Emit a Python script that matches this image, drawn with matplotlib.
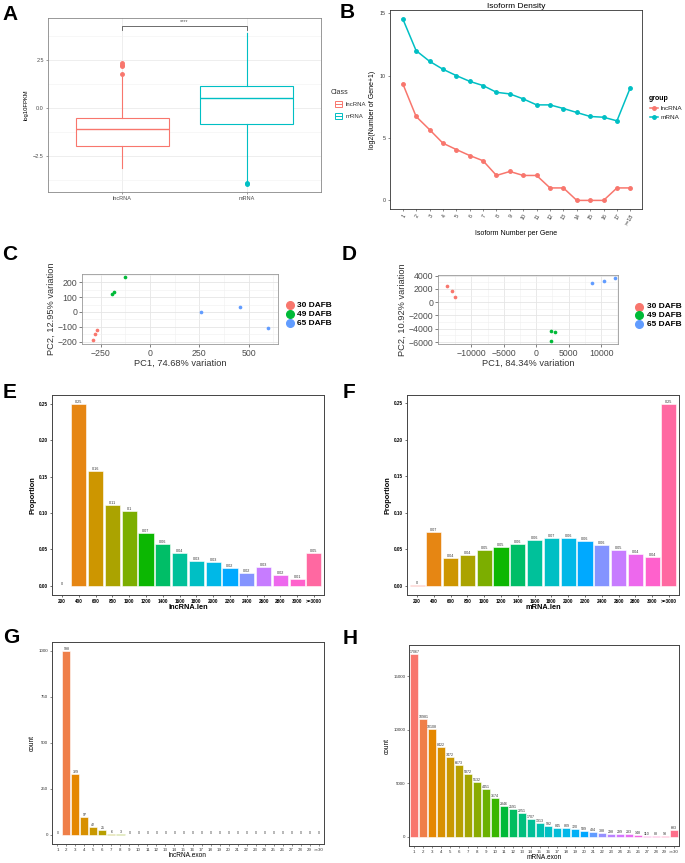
import numpy as np
import matplotlib
matplotlib.use('Agg')
import matplotlib.pyplot as plt
from matplotlib.patches import Rectangle
from matplotlib.ticker import MultipleLocator, FixedLocator

plt.rcParams['font.family'] = ['Liberation Sans', 'DejaVu Sans']

W, H = 685, 863
fig = plt.figure(figsize=(W / 100, H / 100), dpi=100)

# ---------------- data ----------------
# A: boxplot of log10FPKM
box_classes = ['lncRNA', 'mRNA']
box_q1 = [-1.96, -0.82]
box_med = [-1.09, 0.54]
box_q3 = [-0.52, 1.16]
box_lo = [-3.13, -3.82]
box_hi = [1.65, 3.91]
box_fliers = [[1.79, 2.18, 2.26, 2.33], [-3.90, -3.97]]
sig_label = '****'

# B: isoform density
iso_labels = [str(i) for i in range(1, 18)] + ['>=18']
iso_lnc = [9.37, 6.73, 5.68, 4.59, 4.08, 3.60, 3.18, 2.0, 2.32, 2.0, 2.0,
           1.0, 1.0, 0.0, 0.0, 0.0, 1.0, 1.0]
iso_mrna = [14.57, 12.01, 11.16, 10.52, 10.01, 9.55, 9.21, 8.67, 8.54, 8.14,
            7.66, 7.66, 7.37, 7.05, 6.73, 6.67, 6.38, 9.05]

# C: PCA lncRNA
pca_groups = ['30 DAFB', '49 DAFB', '65 DAFB']
pcaC_group = ['30 DAFB'] * 3 + ['49 DAFB'] * 3 + ['65 DAFB'] * 3
pcaC_x = [-290, -281, -268, -194, -184, -126, 256, 455, 600]
pcaC_y = [-189, -148, -119, 124, 135, 238, 2, 36, -110]

# D: PCA mRNA
pcaD_group = ['30 DAFB'] * 3 + ['49 DAFB'] * 3 + ['65 DAFB'] * 3
pcaD_x = [-13740, -12980, -12580, 2320, 2880, 2320, 8640, 10400, 12170]
pcaD_y = [2450, 1650, 850, -4400, -4500, -5900, 2900, 3200, 3650]

# E/F: length distribution
len_cats = ['200', '400', '600', '800', '1000', '1200', '1400', '1600', '1800',
            '2000', '2200', '2400', '2600', '2800', '3000', '>=3000']
lnc_len = [0.0, 0.2495, 0.158, 0.111, 0.103, 0.072, 0.058, 0.045, 0.0345,
           0.0327, 0.024, 0.018, 0.026, 0.015, 0.010, 0.0454]
lnc_len_lab = ['0', '0.25', '0.16', '0.11', '0.1', '0.07', '0.06', '0.04', '0.03',
               '0.03', '0.02', '0.02', '0.03', '0.02', '0.01', '0.05']
mrna_len = [0.0009, 0.0737, 0.038, 0.042, 0.0497, 0.0533, 0.057, 0.0633, 0.066,
            0.065, 0.061, 0.056, 0.049, 0.043, 0.040, 0.2487]
mrna_len_lab = ['0', '0.07', '0.04', '0.04', '0.05', '0.05', '0.06', '0.06', '0.07',
                '0.06', '0.06', '0.06', '0.05', '0.04', '0.04', '0.25']

# G/H: exon number
exon_cats = [str(i) for i in range(1, 30)] + ['>=30']
lnc_exon = [0, 998, 329, 97, 42, 25, 6, 3] + [0] * 22
mrna_exon = [17067, 10981, 10108, 8422, 7472, 6673, 5872, 5132, 4451, 3674,
             2846, 2591, 2251, 1707, 1313, 992, 845, 809, 720, 589,
             434, 388, 298, 299, 233, 148, 110, 88, 93, 683]


# ---------------- helpers ----------------
def hcl_color(h, c=100.0, l=65.0):
    hr = np.deg2rad(h)
    U, V = c * np.cos(hr), c * np.sin(hr)
    Xn, Yn, Zn = 95.047, 100.0, 108.883
    den = Xn + 15 * Yn + 3 * Zn
    un, vn = 4 * Xn / den, 9 * Yn / den
    Y = Yn * ((l + 16) / 116) ** 3
    u = U / (13 * l) + un
    v = V / (13 * l) + vn
    X = 9.0 * Y * u / (4 * v)
    Z = -X / 3 - 5 * Y + 3 * Y / v
    X, Y, Z = X / 100, Y / 100, Z / 100
    r = 3.240479 * X - 1.537150 * Y - 0.498535 * Z
    g = -0.969256 * X + 1.875992 * Y + 0.041556 * Z
    b = 0.055648 * X - 0.204043 * Y + 1.057311 * Z

    def gam(t):
        t = 12.92 * t if t <= 0.0031308 else 1.055 * t ** (1 / 2.4) - 0.055
        return min(1.0, max(0.0, t))
    return (gam(r), gam(g), gam(b))


def hue_pal(n):
    return [hcl_color(h) for h in np.linspace(15, 375, n + 1)[:-1]]


def px_axes(l, t, r, b):
    return fig.add_axes([l / W, 1 - b / H, (r - l) / W, (b - t) / H])


RED, GREEN, BLUE = '#F8766D', '#00BA38', '#619CFF'
TEAL = '#00BFC4'
grp_col = {'30 DAFB': RED, '49 DAFB': GREEN, '65 DAFB': BLUE}

# ---------------- A ----------------
axA = px_axes(48, 18, 321, 192)
stats = []
for i in range(2):
    stats.append(dict(q1=box_q1[i], med=box_med[i], q3=box_q3[i],
                      whislo=box_lo[i], whishi=box_hi[i], fliers=box_fliers[i]))
colsA = [RED, TEAL]
for i, st in enumerate(stats):
    c = colsA[i]
    axA.bxp([st], positions=[i + 1], widths=0.75, showcaps=False, patch_artist=True,
            boxprops=dict(facecolor='white', edgecolor=c, linewidth=0.8),
            whiskerprops=dict(color=c, linewidth=0.8),
            medianprops=dict(color=c, linewidth=1.0),
            flierprops=dict(marker='o', markerfacecolor=c, markeredgecolor=c,
                            markersize=2.5))
axA.set_xlim(0.4, 2.6)
axA.set_ylim(-4.37, 4.7)
axA.set_xticks([1, 2])
axA.set_xticklabels(box_classes)
axA.set_yticks([-2.5, 0, 2.5])
axA.set_yticklabels(['\u22122.5', '0.0', '2.5'])
axA.yaxis.set_minor_locator(FixedLocator([-3.75, -1.25, 1.25, 3.75]))
axA.grid(True, which='major', color='#EBEBEB', linewidth=0.6)
axA.grid(True, which='minor', color='#F2F2F2', linewidth=0.4)
axA.xaxis.grid(True, color='#EBEBEB', linewidth=0.6)
axA.set_axisbelow(True)
axA.tick_params(axis='both', which='major', labelsize=4, colors='#4D4D4D',
                length=1.5, width=0.4, pad=1.5)
axA.tick_params(axis='both', which='minor', length=0)
for s in axA.spines.values():
    s.set_color('#888888')
    s.set_linewidth(0.6)
axA.set_ylabel('log10FPKM', fontsize=4.2, labelpad=3)
axA.plot([1, 1, 2, 2], [4.1, 4.3, 4.3, 4.1], color='#555555', linewidth=0.6)
axA.text(1.5, 4.38, sig_label, ha='center', va='bottom', fontsize=4, color='#555555')

# ---------------- B ----------------
axB = px_axes(390, 10, 642, 209)
xb = np.arange(1, len(iso_labels) + 1)
axB.plot(xb, iso_lnc, color=RED, marker='o', markersize=2.5, linewidth=1.1)
axB.plot(xb, iso_mrna, color=TEAL, marker='o', markersize=2.5, linewidth=1.1)
axB.set_xlim(0.05, 18.87)
axB.set_ylim(-0.69, 15.27)
axB.set_xticks(xb)
axB.set_xticklabels(iso_labels, rotation=60, ha='right', rotation_mode='anchor')
axB.set_yticks([0, 5, 10, 15])
axB.tick_params(axis='both', labelsize=3.8, colors='#333333', length=1.5, width=0.4, pad=1.5)
for s in axB.spines.values():
    s.set_color('#333333')
    s.set_linewidth(0.6)
axB.set_title('Isoform Density', fontsize=6, pad=1.5)
axB.set_ylabel('log2(Number of Gene+1)', fontsize=5, labelpad=3)
axB.set_xlabel('Isoform Number per Gene', fontsize=5, labelpad=3)


# ---------------- C / D ----------------
def pca_panel(ax, xs, ys, grps, xlim, ylim, xt, yt, xmin, ymin, xlabel, ylabel):
    for g in pca_groups:
        idx = [i for i, gg in enumerate(grps) if gg == g]
        ax.scatter([xs[i] for i in idx], [ys[i] for i in idx], s=7,
                   color=grp_col[g], zorder=3, linewidths=0)
    ax.set_xlim(*xlim)
    ax.set_ylim(*ylim)
    ax.set_xticks(xt)
    ax.set_yticks(yt)
    ax.xaxis.set_minor_locator(FixedLocator(xmin))
    ax.yaxis.set_minor_locator(FixedLocator(ymin))
    ax.grid(True, which='major', color='#E5E5E5', linewidth=0.6)
    ax.grid(True, which='minor', color='#F0F0F0', linewidth=0.4)
    ax.set_axisbelow(True)
    ax.tick_params(axis='both', which='major', labelsize=6.3, colors='#4D4D4D',
                   length=2, width=0.5, pad=1.5)
    ax.tick_params(axis='both', which='minor', length=0)
    for s in ax.spines.values():
        s.set_color('#999999')
        s.set_linewidth(0.6)
    ax.set_xlabel(xlabel, fontsize=6.7, labelpad=1, color='#333333')
    ax.set_ylabel(ylabel, fontsize=6.7, labelpad=1, color='#333333')


axC = px_axes(82, 274, 278, 344)
pca_panel(axC, pcaC_x, pcaC_y, pcaC_group, (-345, 649), (-216, 256),
          [-250, 0, 250, 500], [-200, -100, 0, 100, 200],
          [-125, 125, 375, 625], [-150, -50, 50, 150, 250],
          'PC1, 74.68% variation', 'PC2, 12.95% variation')
axC.set_xticklabels(['\u2212250', '0', '250', '500'])
axC.set_yticklabels(['\u2212200', '\u2212100', '0', '100', '200'])

axD = px_axes(438, 275, 618, 344)
pca_panel(axD, pcaD_x, pcaD_y, pcaD_group, (-15150, 12600), (-6300, 4100),
          [-10000, -5000, 0, 5000, 10000], [-6000, -4000, -2000, 0, 2000, 4000],
          [-12500, -7500, -2500, 2500, 7500, 12500], [-5000, -3000, -1000, 1000, 3000],
          'PC1, 84.34% variation', 'PC2, 10.92% variation')
axD.set_xticklabels(['\u221210000', '\u22125000', '0', '5000', '10000'])
axD.set_yticklabels(['\u22126000', '\u22124000', '\u22122000', '0', '2000', '4000'])


# ---------------- E / F / G / H ----------------
def bar_panel(ax, cats, vals, labels, yticks, yfmt, ylabel, xlabel, bold,
              ticksize, labsize, titlesize):
    n = len(cats)
    cols = hue_pal(n)
    x = np.arange(1, n + 1)
    ax.bar(x, vals, width=0.9, color=cols, edgecolor='white', linewidth=0.4, zorder=2)
    for xi, v, lab in zip(x, vals, labels):
        ax.text(xi, v, lab, ha='center', va='bottom', fontsize=labsize, color='#333333')
    vmax = max(vals)
    ax.set_xlim(0.4, n + 0.6)
    ax.set_ylim(-0.05 * vmax, 1.05 * vmax)
    ax.set_xticks(x)
    ax.set_xticklabels(cats)
    ax.set_yticks(yticks)
    ax.set_yticklabels([yfmt.format(t) for t in yticks])
    fw = 'bold' if bold else 'normal'
    tc = 'black' if bold else '#333333'
    ax.tick_params(axis='both', labelsize=ticksize, colors=tc, length=1.5, width=0.4, pad=1.2)
    for t in ax.get_xticklabels() + ax.get_yticklabels():
        t.set_fontweight(fw)
    for s in ax.spines.values():
        s.set_color('#444444')
        s.set_linewidth(0.7)
    ax.set_ylabel(ylabel, fontsize=titlesize, fontweight=fw, labelpad=2)
    ax.set_xlabel(xlabel, fontsize=titlesize, fontweight=fw, labelpad=0.5)


axE = px_axes(52, 395, 324, 595)
bar_panel(axE, len_cats, lnc_len, lnc_len_lab, [0, 0.05, 0.10, 0.15, 0.20, 0.25],
          '{:.2f}', 'Proportion', 'lncRNA.len', True, 3.3, 2.7, 5.3)
axF = px_axes(407, 395, 679, 595)
bar_panel(axF, len_cats, mrna_len, mrna_len_lab, [0, 0.05, 0.10, 0.15, 0.20, 0.25],
          '{:.2f}', 'Proportion', 'mRNA.len', True, 3.3, 2.7, 5.3)
axG = px_axes(52, 642, 324, 844)
bar_panel(axG, exon_cats, lnc_exon, [str(v) for v in lnc_exon], [0, 250, 500, 750, 1000],
          '{:d}', 'count', 'lncRNA.exon', False, 3.2, 2.6, 4.7)
axH = px_axes(409, 645, 679, 846)
bar_panel(axH, exon_cats, mrna_exon, [str(v) for v in mrna_exon], [0, 5000, 10000, 15000],
          '{:d}', 'count', 'mRNA.exon', False, 3.2, 2.6, 4.7)

# ---------------- overlay: letters & legends ----------------
ov = fig.add_axes([0, 0, 1, 1], zorder=10)
ov.set_xlim(0, W)
ov.set_ylim(H, 0)
ov.axis('off')

letters = [('A', 2, 15), ('B', 340, 12), ('C', 2, 254), ('D', 342, 254),
           ('E', 3, 392), ('F', 343, 392), ('G', 3, 637), ('H', 343, 638)]
for t, x, y in letters:
    ov.text(x, y, t, fontsize=15, fontweight='bold', ha='left', va='center')

# A legend
ov.text(331, 92, 'Class', fontsize=5, va='center', ha='left', color='#333333')
for y, c, lab in [(104.5, RED, 'lncRNA'), (116.5, TEAL, 'mRNA')]:
    ov.add_patch(Rectangle((335, y - 3), 7, 6, facecolor='white', edgecolor=c, linewidth=0.7))
    ov.plot([335, 342], [y, y], color=c, linewidth=0.7)
    ov.text(346, y, lab, fontsize=4.3, va='center', ha='left', color='#333333')

# B legend
ov.text(649, 99, 'group', fontsize=5, fontweight='bold', va='center', ha='left')
for y, c, lab in [(108.5, RED, 'lncRNA'), (117.5, TEAL, 'mRNA')]:
    ov.plot([650, 658], [y, y], color=c, linewidth=1.1)
    ov.plot([654], [y], marker='o', color=c, markersize=2.5)
    ov.text(661, y, lab, fontsize=4.6, va='center', ha='left', color='#222222')

# C / D legends
for (cx, tx, ys) in [(290, 297, [305.5, 314.2, 323]), (639.5, 647, [306.7, 315.5, 324.2])]:
    for y, g in zip(ys, pca_groups):
        ov.plot([cx], [y], marker='o', color=grp_col[g], markersize=5.5)
        ov.text(tx, y, g, fontsize=6, fontweight='bold', va='center', ha='left')

fig.savefig('out.png', dpi=100)
